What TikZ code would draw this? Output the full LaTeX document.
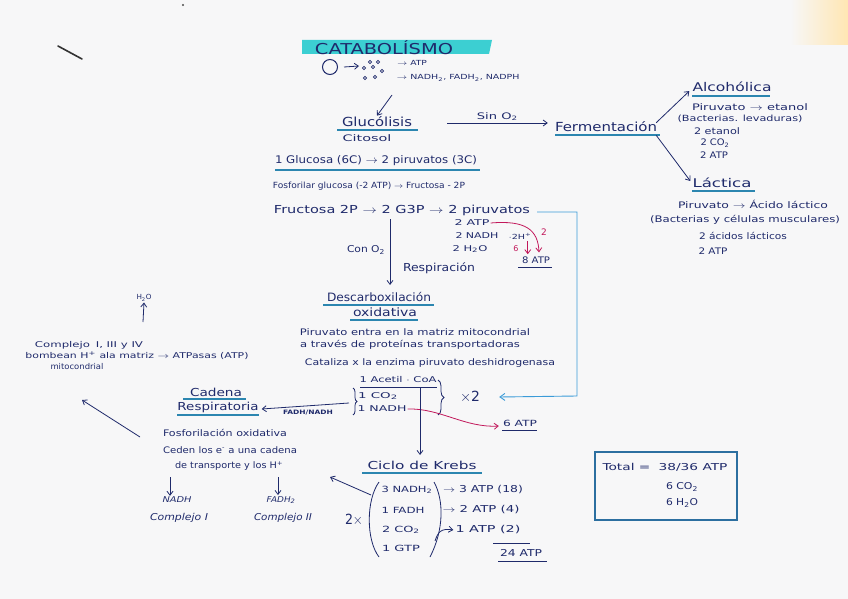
\documentclass[tikz,border=0pt]{standalone}
\usepackage{fontspec}
\usepackage{graphicx}
\setmainfont{DejaVu Sans}
\usetikzlibrary{arrows.meta,decorations.pathreplacing,calc}
\definecolor{ink}{HTML}{1F2A6B}
\definecolor{ulc}{HTML}{2C86B0}
\definecolor{hl}{HTML}{3CCFD2}
\definecolor{redk}{HTML}{C2185B}
\definecolor{bluel}{HTML}{3B9BD8}
\definecolor{paper}{HTML}{F7F7F8}
\definecolor{boxc}{HTML}{2C6FA0}
\newcommand\tw[2]{\resizebox{#1pt}{\height}{#2}}
\tikzset{
  every node/.style={text=ink, inner sep=1pt},
  fs/.style={font=\fontsize{#1}{#1}\selectfont},
  fi/.style={font=\fontsize{#1}{#1}\selectfont\itshape},
  arr/.style={draw=ink, line width=0.8pt, -{Straight Barb[length=4pt,width=6pt]}},
  rarr/.style={draw=redk, line width=0.8pt, -{Straight Barb[length=4pt,width=6pt]}},
  barr/.style={draw=bluel, line width=0.9pt, -{Straight Barb[length=5pt,width=7pt]}},
  ln/.style={draw=ink, line width=0.8pt},
  ul/.style={draw=ulc, line width=1.1pt},
  brc/.style={draw=ink, line width=0.8pt, decorate, decoration={brace, amplitude=#1}},
}
\begin{document}
\begin{tikzpicture}[x=1pt,y=-1pt]
\fill[paper] (0,0) rectangle (848,599);
\useasboundingbox (0,0) rectangle (848,599);
% paper marks
\shade[left color=paper, right color=yellow!35!orange!30] (790,0) rectangle (848,45);
\draw[black!80, line width=1.6pt, line cap=round] (58,46) -- (82,59);
\fill[black!70] (183,5) circle (1.2);

% ---------- title ----------
\fill[hl] (302,40) -- (492,40) -- (489,54) -- (302,54) -- cycle;
\node[fs=15] (title) at (384,48) {\tw{138}{CATABOLÍSMO}};
\node[draw=ink, circle, line width=1pt, minimum size=15pt, inner sep=0] (c0) at (330,67) {};
\foreach \p in {(370,62),(378,62),(364,68),(373,67),(382,71),(365,78),(375,77)}
  \draw[ink, line width=.6pt] \p circle (1.6);
\coordinate (dots) at (359,66);
\draw[arr] ([xshift=6pt]c0.east) -- (dots);
\node[fs=7] (atp0) at (412,63) {\tw{30}{$\to$ ATP}};
\node[fs=7] (nadh0) at (458,78) {\tw{123}{$\to$ NADH\textsubscript{2}, FADH\textsubscript{2}, NADPH}};
\coordinate (a0) at (392,95);

% ---------- glucolisis ----------
\node[fs=12.5] (gluc) at (377,122) {\tw{70}{Glucólisis}};
\draw[ul] (337,130) -- (418,130);
\node[fs=9] (cit) at (367,138) {\tw{49}{Citosol}};
\draw[arr] (a0) -- (gluc.north);

\node[fs=12.5] (ferm) at (606,127) {\tw{102}{Fermentación}};
\draw[ul] (555,135) -- (660,135);
\coordinate (s1) at (447,123);
\draw[arr] (s1) -- node[above, fs=9, yshift=1pt] (sino) {\tw{41}{Sin O\textsubscript{2}}} ([xshift=-6pt,yshift=4pt]ferm.west);

\node[fs=12] (alco) at (732,87) {\tw{79}{Alcohólica}};
\draw[ul] (692,96) -- (770,96);
\draw[arr] ([xshift=-2pt,yshift=-2pt]ferm.north east) -- ([xshift=-2pt,yshift=2pt]alco.south west);
\node[fs=9] (al1) at (750,107) {\tw{116}{Piruvato $\to$ etanol}};
\node[fs=8.5] (al2) at (740,119) {\tw{125}{(Bacterias. levaduras)}};
\node[fs=9] (al3) at (717,131) {\tw{46}{2 etanol}};
\node[fs=9] (al4) at (715,143) {\tw{29}{2 CO\textsubscript{2}}};
\node[fs=9] (al5) at (714,155) {\tw{28}{2 ATP}};

\node[fs=12] (lact) at (722,183) {\tw{59}{Láctica}};
\draw[ul] (692,191) -- (755,191);
\draw[arr] ([xshift=-2pt,yshift=-2pt]ferm.south east) -- ([xshift=-1pt,yshift=2pt]lact.west);
\node[fs=9] (la1) at (753,204) {\tw{150}{Piruvato $\to$ Ácido láctico}};
\node[fs=9] (la2) at (745,220) {\tw{190}{(Bacterias y células musculares)}};
\node[fs=9] (la3) at (743,236) {\tw{88}{2 ácidos lácticos}};
\node[fs=9] (la4) at (713,251) {\tw{29}{2 ATP}};

% ---------- glycolysis lines ----------
\node[fs=10.5] (glu) at (376,161) {\tw{202}{1 Glucosa (6C) $\to$ 2 piruvatos (3C)}};
\draw[ul] (275,170) -- (480,170);
\node[fs=8.5] (fos) at (369,186) {\tw{192}{Fosforilar glucosa (-2 ATP) $\to$ Fructosa - 2P}};
\node[fs=11] (fru) at (402,210) {\tw{256}{Fructosa 2P $\to$ 2 G3P $\to$ 2 piruvatos}};
\node[fs=8] (g1) at (472,223) {\tw{35}{2 ATP}};
\node[fs=8] (g2) at (477,236) {\tw{43}{2 NADH}};
\node[fs=8] (g3) at (470,249) {\tw{35}{2 H\textsubscript{2}O}};
\node[fs=7] (g4) at (520,236) {\tw{23}{$\cdot$2H\textsuperscript{+}}};
\node[fs=9, text=redk] (r2) at (544,232) {2};
\node[fs=8, text=redk] (r6) at (516,249) {6};
\node[fs=9] (atp8) at (536,260) {\tw{28}{8 ATP}};
\draw[ln] (518,267) -- (552,267);
\draw[rarr] (g1.east) .. controls (526,220) and (538,230) .. ([xshift=3pt,yshift=3pt]atp8.north);
\draw[rarr] ([xshift=8pt,yshift=4pt]r6.north east) -- ([xshift=8pt,yshift=-1pt]r6.south east);

% blue return line
\node[fs=14] (x2) at (470,397) {\tw{20}{$\times$2}};
\draw[barr] ([xshift=6pt,yshift=-2pt]fru.east) -- (577,212) -- (577,396) -- ([xshift=18pt]x2.east);

% ---------- respiration ----------
\node[fs=9.5] (cono) at (366,250) {\tw{38}{Con O\textsubscript{2}}};
\node[fs=11] (resp) at (439,268) {\tw{72}{Respiración}};
\node[fs=11.5] (desc) at (379,297) {\tw{104}{Descarboxilación}};
\draw[ul] (323,305) -- (434,305);
\node[fs=11.5] (oxi) at (385,312) {\tw{64}{oxidativa}};
\draw[ul] (350,320) -- (418,320);
\draw[arr] (390,219) -- (390,285);

\node[fs=9] (p1) at (415,332) {\tw{230}{Piruvato entra en la matriz mitocondrial}};
\node[fs=9] (p2) at (410,345) {\tw{220}{a través de proteínas transportadoras}};
\node[fs=9] (p3) at (430,363) {\tw{250}{Cataliza x la enzima piruvato deshidrogenasa}};

\node[fs=8] (ac) at (398,380) {\tw{77}{1 Acetil $\cdot$ CoA}};
\draw[ln] (360,387) -- (437,387);
\node[fs=8] (co2) at (378,396) {\tw{40}{1 CO\textsubscript{2}}};
\node[fs=8] (nd) at (382,409) {\tw{49}{1 NADH}};
\draw[brc=4pt] (353,388) -- (353,415);
\draw[brc=6pt] (438,380) -- (438,415);

\node[fs=8.5] (atp6) at (520,423) {\tw{34}{6 ATP}};
\draw[ln] (502,430) -- (537,430);
\draw[rarr] (nd.east) .. controls (440,408) and (465,428) .. ([xshift=-3pt,yshift=-3pt]atp6.west);

% ---------- cadena respiratoria ----------
\node[fs=11] (cad) at (216,392) {\tw{52}{Cadena}};
\draw[ul] (183,399) -- (246,399);
\node[fs=11] (rsp) at (218,407) {\tw{81}{Respiratoria}};
\draw[ul] (177,415) -- (259,415);
\coordinate (bt) at (349,403);
\draw[arr] (bt) -- ([xshift=2pt,yshift=-2pt]rsp.east);
\node[font=\fontsize{6}{6}\selectfont\bfseries] (fn) at (308,413) {\tw{50}{FADH/NADH}};

\node[fs=9] (fx) at (225,433) {\tw{124}{Fosforilación oxidativa}};
\node[fs=9] (cd1) at (230,450) {\tw{134}{Ceden los e\textsuperscript{-} a una cadena}};
\node[fs=9] (cd2) at (229,466) {\tw{108}{de transporte y los H\textsuperscript{+}}};
\node[fi=8] (n1) at (177,500) {\tw{29}{NADH}};
\node[fi=8] (n2) at (281,500) {\tw{29}{FADH\textsubscript{2}}};
\node[fi=9.5] (cp1) at (179,518) {\tw{58}{Complejo I}};
\node[fi=9.5] (cp2) at (283,518) {\tw{58}{Complejo II}};
\draw[arr] (170,477) -- ([xshift=-7pt]n1.north);
\draw[arr] (278,477) -- ([xshift=-3pt]n2.north);

\node[fs=7] (h2o) at (144,298) {\tw{15}{H\textsubscript{2}O}};
\node[fs=8] (cx) at (89,345) {\tw{108}{Complejo\, I, III y IV}};
\node[fs=8] (bom) at (137,356) {\tw{223}{bombean H\textsuperscript{+} ala matriz $\to$ ATPasas (ATP)}};
\node[fs=8] (mit) at (77,367) {\tw{53}{mitocondrial}};
\draw[arr] (143,322) -- (h2o.south);
\draw[arr] (140,437) -- (82,400);

% ---------- Krebs ----------
\draw[arr] (420,387) -- (420,455);
\node[fs=11] (kr) at (422,465) {\tw{109}{Ciclo de Krebs}};
\draw[ul] (362,473) -- (482,473);
\node[fs=14] (twox) at (354,520) {\tw{18}{2$\times$}};
\draw[ln] (379,482) .. controls (366,500) and (366,540) .. (379,557);
\node[fs=8.5] (k1) at (407,490) {\tw{51}{3 NADH\textsubscript{2}}};
\node[fs=8.5] (k2) at (403,510) {\tw{43}{1 FADH}};
\node[fs=8.5] (k3) at (401,530) {\tw{38}{2 CO\textsubscript{2}}};
\node[fs=8.5] (k4) at (401,548) {\tw{38}{1 GTP}};
\draw[ln] (434,482) .. controls (444,500) and (444,530) .. (430,557);
\draw[arr] (371,495) -- (330,477);
\node[fs=9.5] (kr1) at (483,490) {\tw{80}{$\to$ 3 ATP (18)}};
\node[fs=9.5] (kr2) at (481,510) {\tw{77}{$\to$ 2 ATP (4)}};
\node[fs=9.5] (kr3) at (488,530) {\tw{65}{1 ATP (2)}};
\draw[arr] (435,541) .. controls (438,532) and (441,528) .. ([xshift=-1pt]kr3.west);
\draw[ln] (493,543) -- (530,543);
\node[fs=9.5] (kr4) at (521,553) {\tw{42}{24 ATP}};
\draw[ln] (498,561) -- (547,561);

% ---------- total ----------
\node[draw=boxc, line width=1.2pt, minimum width=142pt, minimum height=68pt] (box) at (666,486) {};
\node[fs=9.5] (tot) at (665,467) {\tw{125}{Total =\; 38/36 ATP}};
\node[fs=9.5] (tc) at (682,487) {\tw{32}{6 CO\textsubscript{2}}};
\node[fs=9.5] (th) at (682,503) {\tw{32}{6 H\textsubscript{2}O}};
\end{tikzpicture}
\end{document}
